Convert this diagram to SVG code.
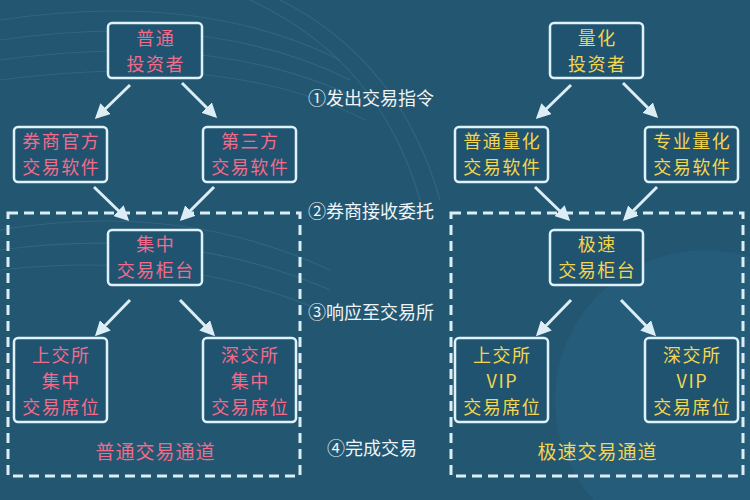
<svg xmlns="http://www.w3.org/2000/svg" width="750" height="500" viewBox="0 0 750 500">
<defs>
<style>
.box{fill:#1f5370;stroke:#dff2fa;stroke-width:2.5}
.pk{fill:#f26b8a;font-family:"Noto Sans CJK SC","Noto Sans",sans-serif;font-size:18px;letter-spacing:1.5px;text-anchor:middle}
.yl{fill:#f3d64e;font-family:"Noto Sans CJK SC","Noto Sans",sans-serif;font-size:18px;letter-spacing:1.5px;text-anchor:middle}
.ch{font-size:19px;letter-spacing:1px}
.lb{fill:#eef4f7;font-family:"Noto Sans CJK SC","Noto Sans",sans-serif;font-size:18px;dominant-baseline:central}
.ar{stroke:#dcedf5;stroke-width:3;fill:none;marker-end:url(#ah)}
.dash{fill:none;stroke:#dcedf5;stroke-width:3;stroke-dasharray:10 6}
.wave{fill:none;stroke:#3d7590;stroke-width:1.2;opacity:0.5}
</style>
<marker id="ah" viewBox="0 0 10 10" refX="8" refY="5" markerWidth="5" markerHeight="5" orient="auto" markerUnits="strokeWidth">
<path d="M0,0 L10,5 L0,10 z" fill="#dcedf5"/>
</marker>
</defs>
<rect width="750" height="500" fill="#235670"/>
<g id="background">
<circle cx="705" cy="400" r="150" fill="#276080" opacity="0.6"/>
<path class="wave" d="M0,20 Q200,-10 340,60"/>
<path class="wave" d="M0,40 Q210,10 350,80"/>
<path class="wave" d="M0,60 Q220,30 360,100"/>
<path class="wave" d="M0,80 Q230,50 365,120"/>
<path class="wave" d="M0,230 Q180,200 330,270"/>
<path class="wave" d="M0,250 Q180,225 330,290"/>
<path class="wave" d="M0,270 Q180,250 320,310"/>
<path class="wave" d="M250,0 Q380,60 420,200"/>
<path class="wave" d="M280,0 Q400,60 440,200"/>
</g>
<g id="connectors">
<rect class="dash" x="8" y="213" width="292" height="263"/>
<rect class="dash" x="451" y="213" width="292" height="263"/>
<line class="ar" x1="130" y1="85" x2="97" y2="117"/>
<line class="ar" x1="182" y1="83" x2="215" y2="116"/>
<line class="ar" x1="94" y1="187" x2="127" y2="219"/>
<line class="ar" x1="214" y1="187" x2="182" y2="219"/>
<line class="ar" x1="130" y1="300" x2="97" y2="334"/>
<line class="ar" x1="180" y1="300" x2="213" y2="334"/>
<line class="ar" x1="571" y1="85" x2="538" y2="117"/>
<line class="ar" x1="623" y1="83" x2="656" y2="116"/>
<line class="ar" x1="535" y1="187" x2="568" y2="219"/>
<line class="ar" x1="657" y1="187" x2="625" y2="219"/>
<line class="ar" x1="571" y1="300" x2="538" y2="334"/>
<line class="ar" x1="621" y1="300" x2="654" y2="334"/>
</g>
<g id="n_putong">
<rect class="box" x="108" y="23" width="94" height="55" rx="4"/>
<text class="pk"><tspan x="155.8" y="44.5">普通</tspan><tspan x="155.8" y="70.5">投资者</tspan></text>
</g>
<g id="n_quanshang">
<rect class="box" x="14" y="127" width="93" height="55" rx="4"/>
<text class="pk"><tspan x="61.3" y="148">券商官方</tspan><tspan x="61.3" y="174">交易软件</tspan></text>
</g>
<g id="n_disanfang">
<rect class="box" x="203" y="127" width="93" height="55" rx="4"/>
<text class="pk"><tspan x="250.3" y="148">第三方</tspan><tspan x="250.3" y="174">交易软件</tspan></text>
</g>
<g id="n_jizhong">
<rect class="box" x="108" y="230" width="94" height="55" rx="4"/>
<text class="pk"><tspan x="155.8" y="251">集中</tspan><tspan x="155.8" y="277">交易柜台</tspan></text>
</g>
<g id="n_sh1">
<rect class="box" x="14" y="338" width="93" height="84" rx="4"/>
<text class="pk"><tspan x="61.3" y="361.5">上交所</tspan><tspan x="61.3" y="387.5">集中</tspan><tspan x="61.3" y="413.5">交易席位</tspan></text>
</g>
<g id="n_sz1">
<rect class="box" x="203" y="338" width="93" height="84" rx="4"/>
<text class="pk"><tspan x="250.3" y="361.5">深交所</tspan><tspan x="250.3" y="387.5">集中</tspan><tspan x="250.3" y="413.5">交易席位</tspan></text>
</g>
<g id="t_putong_channel">
<text class="pk ch" x="155.5" y="459">普通交易通道</text>
</g>
<g id="n_lianghua">
<rect class="box" x="550" y="23" width="93" height="55" rx="4"/>
<text class="yl"><tspan x="597.3" y="44.5">量化</tspan><tspan x="597.3" y="70.5">投资者</tspan></text>
</g>
<g id="n_ptlh">
<rect class="box" x="455" y="127" width="93" height="55" rx="4"/>
<text class="yl"><tspan x="502.3" y="148">普通量化</tspan><tspan x="502.3" y="174">交易软件</tspan></text>
</g>
<g id="n_zylh">
<rect class="box" x="645" y="127" width="93" height="55" rx="4"/>
<text class="yl"><tspan x="692.3" y="148">专业量化</tspan><tspan x="692.3" y="174">交易软件</tspan></text>
</g>
<g id="n_jisu">
<rect class="box" x="550" y="230" width="93" height="55" rx="4"/>
<text class="yl"><tspan x="597.3" y="251">极速</tspan><tspan x="597.3" y="277">交易柜台</tspan></text>
</g>
<g id="n_sh2">
<rect class="box" x="455" y="338" width="93" height="84" rx="4"/>
<text class="yl"><tspan x="502.3" y="361.5">上交所</tspan><tspan x="502.3" y="387.5">VIP</tspan><tspan x="502.3" y="413.5">交易席位</tspan></text>
</g>
<g id="n_sz2">
<rect class="box" x="645" y="338" width="93" height="84" rx="4"/>
<text class="yl"><tspan x="692.3" y="361.5">深交所</tspan><tspan x="692.3" y="387.5">VIP</tspan><tspan x="692.3" y="413.5">交易席位</tspan></text>
</g>
<g id="t_jisu_channel">
<text class="yl ch" x="597.5" y="459">极速交易通道</text>
</g>
<g id="steps">
<text class="lb" x="308" y="97">①发出交易指令</text>
<text class="lb" x="308" y="210">②券商接收委托</text>
<text class="lb" x="308" y="311">③响应至交易所</text>
<text class="lb" x="327" y="447">④完成交易</text>
</g>
</svg>
